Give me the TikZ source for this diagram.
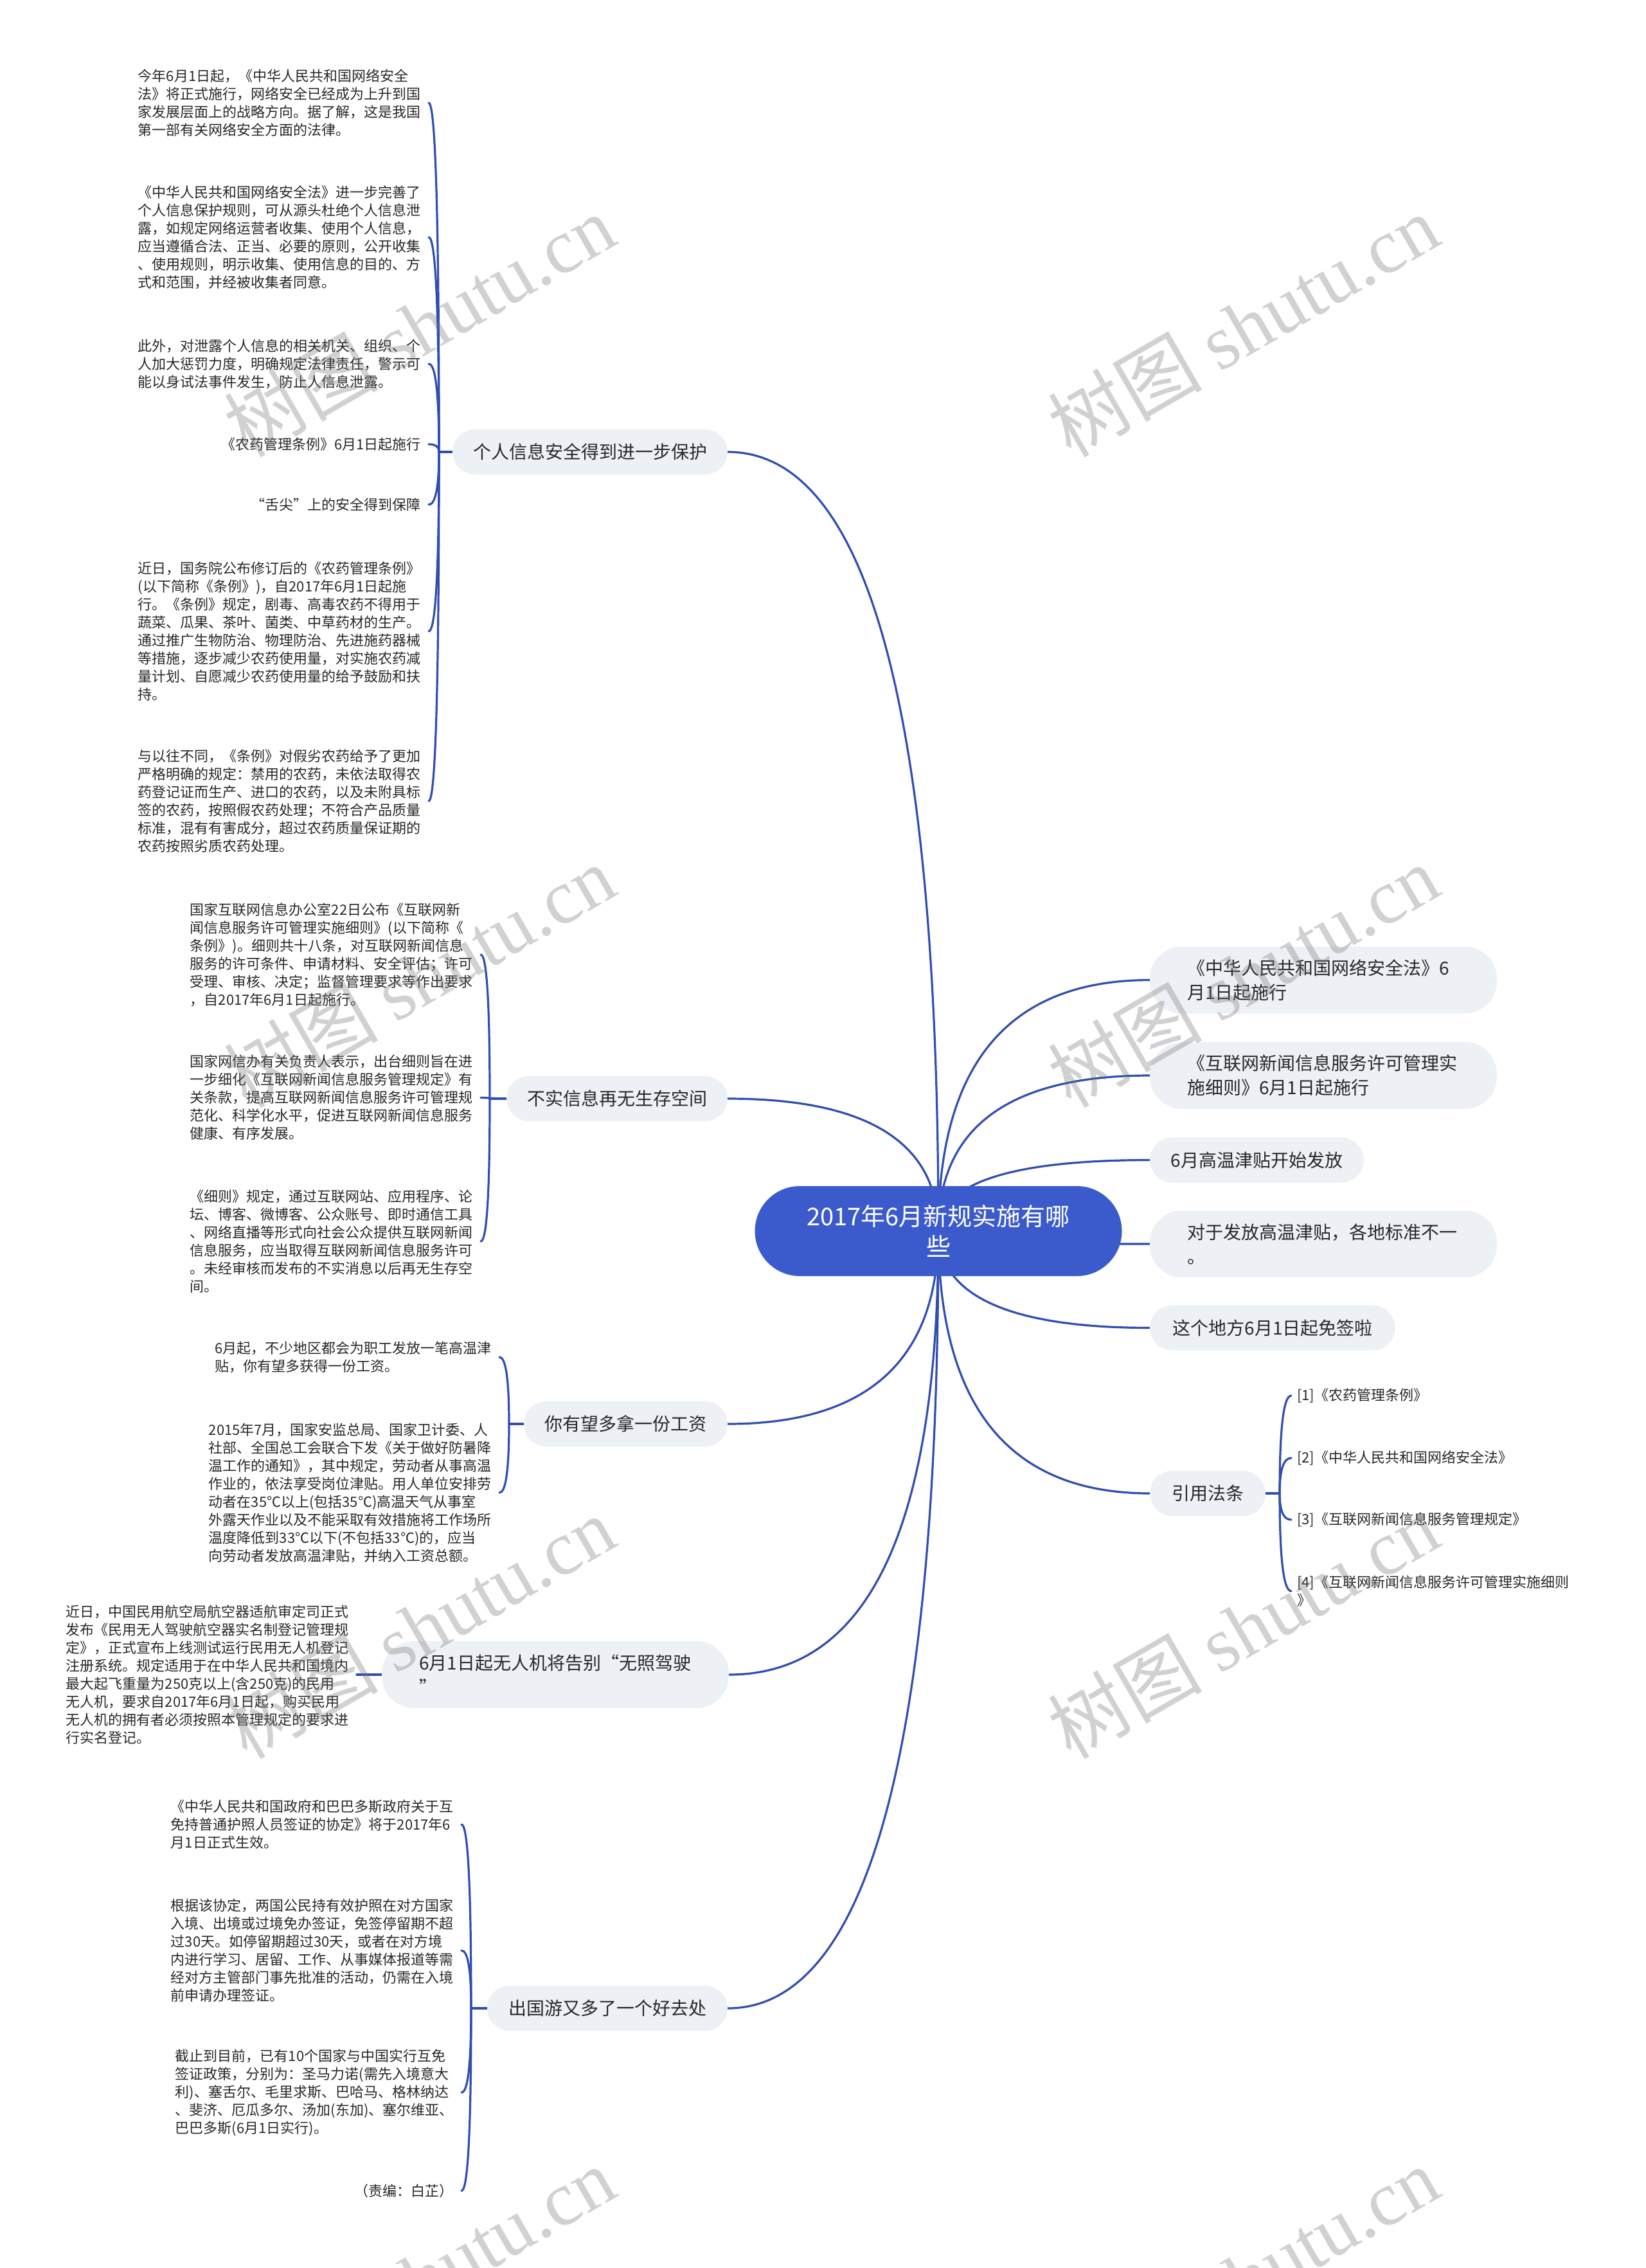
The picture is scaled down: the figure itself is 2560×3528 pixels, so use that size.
\documentclass[tikz,border=0pt]{standalone}
\usepackage{fontspec}
\setmainfont{Noto Sans CJK SC}
\newfontfamily\wmserif{Liberation Serif}
\usetikzlibrary{calc}
\pgfdeclarelayer{back}
\pgfdeclarelayer{bg}
\pgfsetlayers{back,bg,main}
\definecolor{rootblue}{RGB}{59,91,204}
\definecolor{linkblue}{RGB}{48,78,178}
\definecolor{boxfill}{RGB}{237,240,245}
\definecolor{txt}{RGB}{40,40,40}
\newcommand\qlink[2]{%
  \coordinate (qc) at (#1 |- #2);
  \draw[conn] (#1) .. controls ($(#1)!0.6667!(qc)$) and ($(#2)!0.6667!(qc)$) .. (#2);}
\begin{document}
\begin{tikzpicture}[x=1pt,y=-1pt,
  conn/.style={draw=linkblue, line width=3.2pt, line cap=round},
  rootnode/.style={fill=rootblue, rounded corners=70pt, minimum width=571pt, minimum height=140pt, inner sep=0pt, text=white, align=center, font=\fontsize{38}{47}\selectfont},
  branch/.style={fill=boxfill, rounded corners=35pt, minimum height=70pt, inner sep=0pt, text=txt, align=center, font=\fontsize{28}{38}\selectfont},
  branchtwo/.style={fill=boxfill, rounded corners=50pt, minimum height=104pt, inner xsep=58pt, inner ysep=0pt, text width=424pt, align=left, text=txt, font=\fontsize{28}{38}\selectfont},
  leaf/.style={inner xsep=12pt, inner ysep=0pt, align=left, text=txt, font=\fontsize{22}{28}\selectfont},
  wm/.style={text=black!55, opacity=0.32, rotate=30, inner sep=0pt, font=\fontsize{120}{120}\selectfont}]
\useasboundingbox (0,0) rectangle (2560,3528);
\begin{pgfonlayer}{back}
\fill[white] (0,0) rectangle (2560,3528);
\end{pgfonlayer}

% root
\node[rootnode] (root) at (1460,1915) {2017年6月新规实施有哪\\些};

% left branches
\node[branch, minimum width=428pt] (L1) at (918,703) {个人信息安全得到进一步保护};
\node[branch, minimum width=344pt] (L2) at (960,1709) {不实信息再无生存空间};
\node[branch, minimum width=317pt] (L3) at (973.5,2215) {你有望多拿一份工资};
\node[branchtwo] (L4) at (864,2605) {6月1日起无人机将告别“无照驾驶\\”};
\node[branch, minimum width=374pt] (L5) at (945,3124) {出国游又多了一个好去处};

% right branches
\node[branchtwo] (R1) at (2059,1524.5) {《中华人民共和国网络安全法》6\\月1日起施行};
\node[branchtwo] (R2) at (2059,1673) {《互联网新闻信息服务许可管理实\\施细则》6月1日起施行};
\node[branch, minimum width=333pt] (R3) at (1955.5,1804.5) {6月高温津贴开始发放};
\node[branchtwo] (R4) at (2059,1935) {对于发放高温津贴，各地标准不一\\。};
\node[branch, minimum width=382pt] (R5) at (1980,2065.5) {这个地方6月1日起免签啦};
\node[branch, minimum width=180pt] (R6) at (1879,2323) {引用法条};

% leaves of L1
\node[leaf, anchor=east] (C1) at (667,160) {今年6月1日起，《中华人民共和国网络安全\\法》将正式施行，网络安全已经成为上升到国\\家发展层面上的战略方向。据了解，这是我国\\第一部有关网络安全方面的法律。};
\node[leaf, anchor=east] (C2) at (667,369) {《中华人民共和国网络安全法》进一步完善了\\个人信息保护规则，可从源头杜绝个人信息泄\\露，如规定网络运营者收集、使用个人信息，\\应当遵循合法、正当、必要的原则，公开收集\\、使用规则，明示收集、使用信息的目的、方\\式和范围，并经被收集者同意。};
\node[leaf, anchor=east] (C3) at (667,566) {此外，对泄露个人信息的相关机关、组织、个\\人加大惩罚力度，明确规定法律责任，警示可\\能以身试法事件发生，防止人信息泄露。};
\node[leaf, anchor=east] (C4) at (667,691) {《农药管理条例》6月1日起施行};
\node[leaf, anchor=east] (C5) at (667,785) {“舌尖”上的安全得到保障};
\node[leaf, anchor=east] (C6) at (667,982) {近日，国务院公布修订后的《农药管理条例》\\(以下简称《条例》)，自2017年6月1日起施\\行。《条例》规定，剧毒、高毒农药不得用于\\蔬菜、瓜果、茶叶、菌类、中草药材的生产。\\通过推广生物防治、物理防治、先进施药器械\\等措施，逐步减少农药使用量，对实施农药减\\量计划、自愿减少农药使用量的给予鼓励和扶\\持。};
\node[leaf, anchor=east] (C7) at (667,1246) {与以往不同，《条例》对假劣农药给予了更加\\严格明确的规定：禁用的农药，未依法取得农\\药登记证而生产、进口的农药，以及未附具标\\签的农药，按照假农药处理；不符合产品质量\\标准，混有有害成分，超过农药质量保证期的\\农药按照劣质农药处理。};

% leaves of L2
\node[leaf, anchor=east] (D1) at (748,1485) {国家互联网信息办公室22日公布《互联网新\\闻信息服务许可管理实施细则》(以下简称《\\条例》)。细则共十八条，对互联网新闻信息\\服务的许可条件、申请材料、安全评估；许可\\受理、审核、决定；监督管理要求等作出要求\\，自2017年6月1日起施行。};
\node[leaf, anchor=east] (D2) at (748,1707.5) {国家网信办有关负责人表示，出台细则旨在进\\一步细化《互联网新闻信息服务管理规定》有\\关条款，提高互联网新闻信息服务许可管理规\\范化、科学化水平，促进互联网新闻信息服务\\健康、有序发展。};
\node[leaf, anchor=east] (D3) at (748,1931) {《细则》规定，通过互联网站、应用程序、论\\坛、博客、微博客、公众账号、即时通信工具\\、网络直播等形式向社会公众提供互联网新闻\\信息服务，应当取得互联网新闻信息服务许可\\。未经审核而发布的不实消息以后再无生存空\\间。};

% leaves of L3
\node[leaf, anchor=east] (E1) at (777,2111) {6月起，不少地区都会为职工发放一笔高温津\\贴，你有望多获得一份工资。};
\node[leaf, anchor=east] (E2) at (777,2322) {2015年7月，国家安监总局、国家卫计委、人\\社部、全国总工会联合下发《关于做好防暑降\\温工作的通知》，其中规定，劳动者从事高温\\作业的，依法享受岗位津贴。用人单位安排劳\\动者在35℃以上(包括35℃)高温天气从事室\\外露天作业以及不能采取有效措施将工作场所\\温度降低到33℃以下(不包括33℃)的，应当\\向劳动者发放高温津贴，并纳入工资总额。};

% leaf of L4
\node[leaf, anchor=east] (F1) at (555,2605) {近日，中国民用航空局航空器适航审定司正式\\发布《民用无人驾驶航空器实名制登记管理规\\定》，正式宣布上线测试运行民用无人机登记\\注册系统。规定适用于在中华人民共和国境内\\最大起飞重量为250克以上(含250克)的民用\\无人机，要求自2017年6月1日起，购买民用\\无人机的拥有者必须按照本管理规定的要求进\\行实名登记。};

% leaves of L5
\node[leaf, anchor=east] (G1) at (718,2838) {《中华人民共和国政府和巴巴多斯政府关于互\\免持普通护照人员签证的协定》将于2017年6\\月1日正式生效。};
\node[leaf, anchor=east] (G2) at (718,3034) {根据该协定，两国公民持有效护照在对方国家\\入境、出境或过境免办签证，免签停留期不超\\过30天。如停留期超过30天，或者在对方境\\内进行学习、居留、工作、从事媒体报道等需\\经对方主管部门事先批准的活动，仍需在入境\\前申请办理签证。};
\node[leaf, anchor=east] (G3) at (718,3255) {截止到目前，已有10个国家与中国实行互免\\签证政策，分别为：圣马力诺(需先入境意大\\利)、塞舌尔、毛里求斯、巴哈马、格林纳达\\、斐济、厄瓜多尔、汤加(东加)、塞尔维亚、\\巴巴多斯(6月1日实行)。};
\node[leaf, anchor=east] (G4) at (718,3408) {（责编：白芷）};

% leaves of R6
\node[leaf, anchor=west, inner xsep=9pt] (H1) at (2009,2171) {[1]《农药管理条例》};
\node[leaf, anchor=west, inner xsep=9pt] (H2) at (2009,2268) {[2]《中华人民共和国网络安全法》};
\node[leaf, anchor=west, inner xsep=9pt] (H3) at (2009,2364) {[3]《互联网新闻信息服务管理规定》};
\node[leaf, anchor=west, inner xsep=9pt] (H4) at (2009,2475) {[4]《互联网新闻信息服务许可管理实施细则\\》};

% junction points
\coordinate (J1) at (683,703);
\coordinate (J2) at (762,1709);
\coordinate (J3) at (792,2215);
\coordinate (J5) at (733,3124);
\coordinate (J6) at (1991,2323);

\begin{pgfonlayer}{bg}
\qlink{root.center}{L1.east}
\qlink{root.center}{L2.east}
\qlink{root.center}{L3.east}
\qlink{root.center}{L4.east}
\qlink{root.center}{L5.east}
\qlink{root.center}{R1.west}
\qlink{root.center}{R2.west}
\qlink{root.center}{R3.west}
\qlink{root.center}{R4.west}
\qlink{root.center}{R5.west}
\qlink{root.center}{R6.west}
\draw[conn] (L1.west) -- (J1);
\qlink{J1}{C1.east}
\qlink{J1}{C2.east}
\qlink{J1}{C3.east}
\qlink{J1}{C4.east}
\qlink{J1}{C5.east}
\qlink{J1}{C6.east}
\qlink{J1}{C7.east}
\draw[conn] (L2.west) -- (J2);
\qlink{J2}{D1.east}
\qlink{J2}{D2.east}
\qlink{J2}{D3.east}
\draw[conn] (L3.west) -- (J3);
\qlink{J3}{E1.east}
\qlink{J3}{E2.east}
\draw[conn] (L4.west) -- (F1.east);
\draw[conn] (L5.west) -- (J5);
\qlink{J5}{G1.east}
\qlink{J5}{G2.east}
\qlink{J5}{G3.east}
\qlink{J5}{G4.east}
\draw[conn] (R6.east) -- (J6);
\qlink{J6}{H1.west}
\qlink{J6}{H2.west}
\qlink{J6}{H3.west}
\qlink{J6}{H4.west}
\end{pgfonlayer}

% watermarks
\node[wm] (w1) at (652,506) {树图 {\wmserif shutu.cn}};
\node[wm] (w2) at (1934,506) {树图 {\wmserif shutu.cn}};
\node[wm] (w3) at (652,1518) {树图 {\wmserif shutu.cn}};
\node[wm] (w4) at (1934,1518) {树图 {\wmserif shutu.cn}};
\node[wm] (w5) at (652,2531) {树图 {\wmserif shutu.cn}};
\node[wm] (w6) at (1934,2531) {树图 {\wmserif shutu.cn}};
\node[wm] (w7) at (652,3543) {树图 {\wmserif shutu.cn}};
\node[wm] (w8) at (1934,3543) {树图 {\wmserif shutu.cn}};
\end{tikzpicture}
\end{document}
